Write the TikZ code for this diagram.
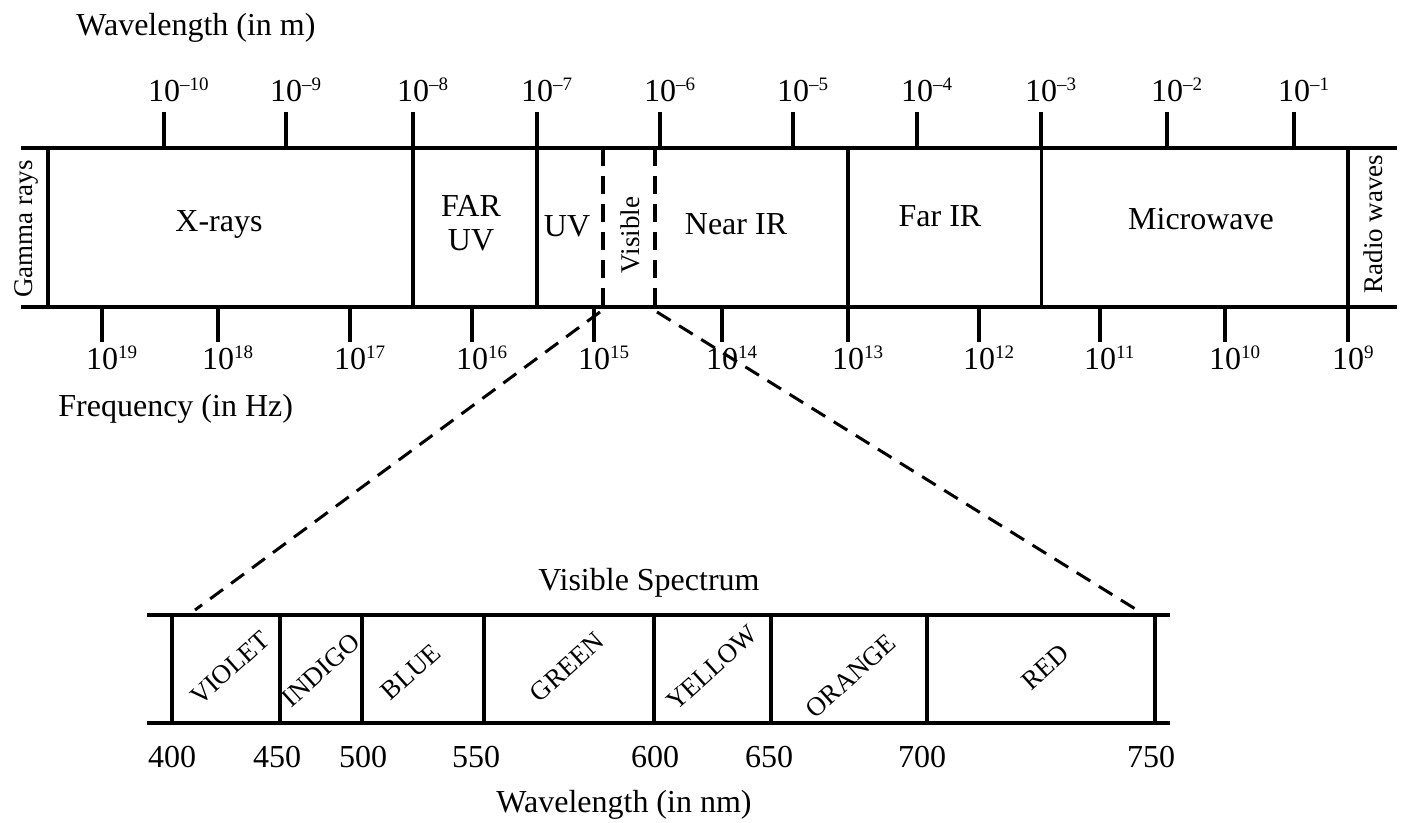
\documentclass[tikz,border=0pt]{standalone}
\usepackage{fontspec}
\setmainfont{Liberation Serif}
% power of ten whose exponent hangs to the right of a centred "10"
\newcommand\pwr[1]{10\rlap{\raisebox{5.6pt}{\fontsize{9.5}{10}\selectfont #1}}}
\begin{document}
\begin{tikzpicture}[x=0.5pt,y=-0.5pt,
  bar/.style={line width=2pt, black},
  thinbar/.style={line width=1.5pt, black},
  dashbar/.style={line width=2pt, black, dash pattern=on 9pt off 5pt},
  zoomline/.style={line width=1.5pt, black, dash pattern=on 8pt off 5pt},
  lab/.style={font=\fontsize{16}{19}\selectfont, inner sep=0pt},
  blab/.style={lab, anchor=base},
  vlab/.style={font=\fontsize{13.5}{16}\selectfont, inner sep=0pt, rotate=90},
  colour/.style={font=\fontsize{13.3}{15}\selectfont, inner sep=0pt, rotate=42},
]
\useasboundingbox (0,0) rectangle (1402,823);

% ---------- electromagnetic spectrum band ----------
\coordinate (bandTL) at (21,148);
\coordinate (bandTR) at (1397,148);
\coordinate (bandBL) at (21,307);
\coordinate (bandBR) at (1397,307);
\draw[bar] (bandTL) -- (bandTR);
\draw[bar] (bandBL) -- (bandBR);

% region borders
\foreach \x in {48,413,537,848,1348}
  \draw[bar] (\x,148) -- (\x,307);
\draw[thinbar] (1041,148) -- (1041,307);

% visible window
\coordinate (visTL) at (603,148);
\coordinate (visTR) at (655,148);
\coordinate (visBL) at (603,310);
\coordinate (visBR) at (655,310);
\draw[dashbar] (visTL) -- (visBL);
\draw[dashbar] (visTR) -- (visBR);

% wavelength ticks (top)
\foreach \x/\e [count=\i] in {164/10,286/9,413/8,537/7,660/6,793/5,917/4,1041/3,1167/2,1294/1}{
  \draw[bar] (\x,112) -- (\x,148);
  \node[blab] (wl\i) at (\x,102) {\pwr{\textendash\e}};
}

% frequency ticks (bottom)
\foreach \x/\e [count=\i] in {102/19,218/18,350/17,472/16,594/15,722/14,848/13,979/12,1100/11,1225/10,1348/9}{
  \draw[bar] (\x,307) -- (\x,342);
  \node[blab] (fq\i) at (\x,370) {\pwr{\e}};
}

% axis titles
\node[blab, anchor=base west] (wltitle) at (76,36) {Wavelength (in m)};
\node[blab, anchor=base west] (fqtitle) at (58,416) {Frequency (in Hz)};

% region names
\node[vlab] (gamma) at (26,229) {Gamma rays};
\node[blab] (xray) at (219,232) {X-rays};
\node[blab] (farUV1) at (471,217) {FAR};
\node[blab] (farUV2) at (471,251) {UV};
\node[blab] (uv) at (567,237) {UV};
\node[vlab] (visible) at (630,235) {Visible};
\node[blab] (nearIR) at (736,235) {Near IR};
\node[blab] (farIR) at (940,227) {Far IR};
\node[blab] (micro) at (1201,230) {Microwave};
\node[vlab] (radio) at (1373,224) {Radio waves};

% ---------- visible spectrum bar ----------
\coordinate (visSpecL) at (195,610);
\coordinate (visSpecR) at (1137,610);
\coordinate (zoomL) at (600,312);
\coordinate (zoomR) at (657,312);
\draw[zoomline] (zoomL) -- (visSpecL);
\draw[zoomline] (zoomR) -- (visSpecR);

\draw[bar] (147,615) -- (1170,615);
\draw[bar] (147,723) -- (1170,723);
\foreach \x in {172,280,362,484,654,771,927,1155}
  \draw[bar] (\x,615) -- (\x,723);

\node[blab] (vstitle) at (649,590) {Visible Spectrum};
\node[blab] (nmtitle) at (624,812) {Wavelength (in nm)};

\foreach \x/\n [count=\i] in {172/400,277/450,363/500,476/550,655/600,769/650,922/700,1151/750}
  \node[blab] (nm\i) at (\x,767) {\n};

\node[colour] (violet) at (230,668) {VIOLET};
\node[colour] (indigo) at (321,670) {INDIGO};
\node[colour] (blue)   at (411,672) {BLUE};
\node[colour] (green)  at (567,667) {GREEN};
\node[colour] (yellow) at (712,668) {YELLOW};
\node[colour] (orange) at (851,676) {ORANGE};
\node[colour] (red)    at (1045,667) {RED};
\end{tikzpicture}
\end{document}
